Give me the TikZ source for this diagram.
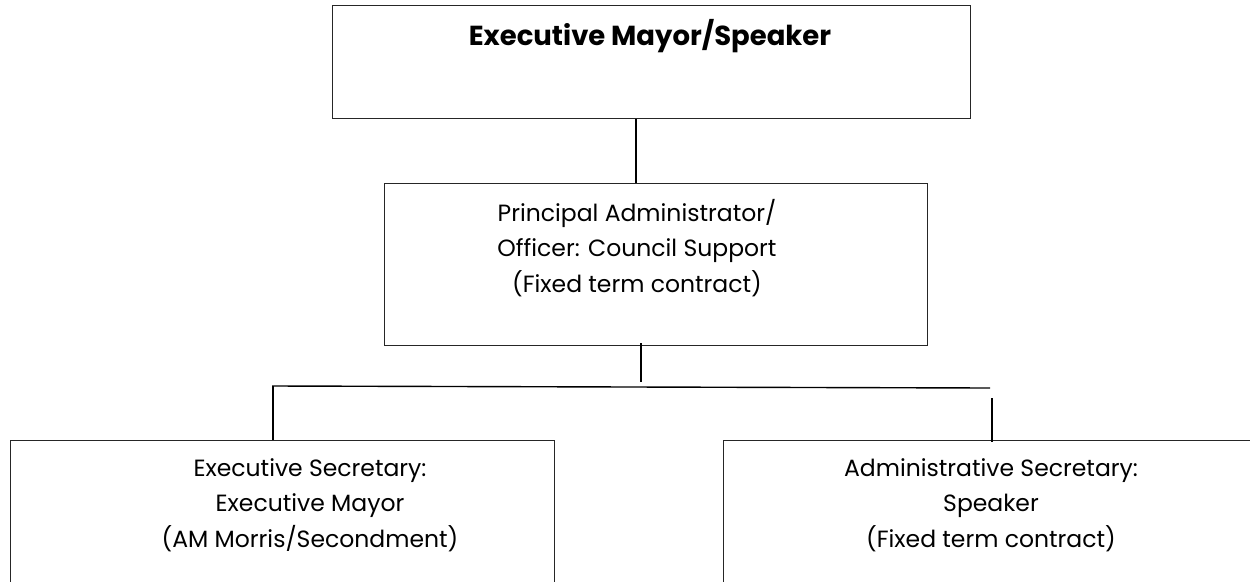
\documentclass[tikz,border=0pt]{standalone}
\usepackage{fontspec}
\setmainfont{Poppins}
\begin{document}
\begin{tikzpicture}[x=1pt,y=-1pt,
  box/.style={draw=black!85,line width=1.3pt,inner sep=0pt,anchor=north west},
  txt/.style={align=center,inner sep=0pt,font=\fontsize{23.5}{35.5}\selectfont},
  conn/.style={draw=black,line width=1.4pt}]
\useasboundingbox (0,0) rectangle (1250,581);
\clip (0,0) rectangle (1250,581);
% boxes
\node[box,minimum width=638pt,minimum height=113pt] (top) at (332,5) {};
\node[box,minimum width=543pt,minimum height=162pt] (mid) at (384,183) {};
\node[box,minimum width=544pt,minimum height=200pt] (left) at (10,440) {};
\node[box,minimum width=600pt,minimum height=200pt] (right) at (723,440) {};
% texts
\node[txt,font=\fontsize{27.5}{30}\selectfont\bfseries] (toptext) at (650,36) {Executive Mayor/Speaker};
\node[txt] (midtext) at (637,248) {Principal Administrator/\\Officer: Council Support\\(Fixed term contract)};
\node[txt] (lefttext) at (310,505) {Executive Secretary:\\Executive Mayor\\(AM Morris/Secondment)};
\node[txt] (righttext) at (991,505) {Administrative Secretary:\\Speaker\\(Fixed term contract)};
% helper coordinates
\coordinate (c1) at (636,0);
\coordinate (c2) at (641,0);
\coordinate (hl) at (272,386);
\coordinate (hr) at (990,388);
\coordinate (rv) at (992,398);
\coordinate (lv) at (273,0);
% connectors
\draw[conn] (top.south -| c1) -- (mid.north -| c1);
\draw[conn] ([yshift=3pt]mid.south -| c2) -- ([yshift=4pt]hl -| c2);
\draw[conn] (hl) -- (hr);
\draw[conn] (hl -| lv) -- (left.north -| lv);
\draw[conn] (rv) -- ([yshift=-2pt]right.north -| rv);
\end{tikzpicture}
\end{document}
